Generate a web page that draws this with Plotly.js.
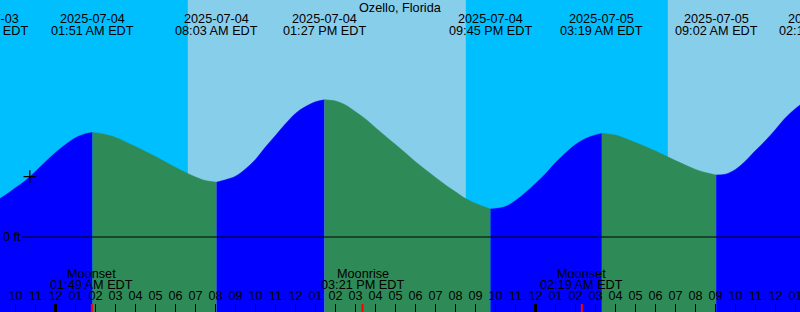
<!DOCTYPE html>
<html>
<head>
<meta charset="utf-8">
<script src="https://cdn.plot.ly/plotly-3.0.1.min.js"></script>
<style>
html,body{margin:0;padding:0;background:#fff;}
#chart{width:800px;height:312px;}
</style>
</head>
<body>
<div id="chart"></div>
<script>
// ---- data ----
const stationName = "Ozello, Florida";

const tideTimes = [
  "2025-07-03 20:33","2025-07-03 21:00","2025-07-03 21:30","2025-07-03 22:00","2025-07-03 22:30",
  "2025-07-03 23:00","2025-07-03 23:30",
  "2025-07-04 00:00","2025-07-04 00:30","2025-07-04 01:00","2025-07-04 01:30","2025-07-04 01:51",
  "2025-07-04 02:15","2025-07-04 02:30","2025-07-04 03:00","2025-07-04 04:00","2025-07-04 05:00",
  "2025-07-04 06:00","2025-07-04 07:00","2025-07-04 07:30","2025-07-04 08:03","2025-07-04 08:30",
  "2025-07-04 09:00","2025-07-04 09:30","2025-07-04 10:00","2025-07-04 10:30","2025-07-04 11:00",
  "2025-07-04 11:30","2025-07-04 12:00","2025-07-04 12:30","2025-07-04 13:00","2025-07-04 13:27",
  "2025-07-04 14:00","2025-07-04 14:30","2025-07-04 15:00","2025-07-04 15:30","2025-07-04 16:00",
  "2025-07-04 16:30","2025-07-04 17:00","2025-07-04 17:30","2025-07-04 18:00","2025-07-04 18:30",
  "2025-07-04 19:00","2025-07-04 19:30","2025-07-04 20:00","2025-07-04 20:30","2025-07-04 21:00",
  "2025-07-04 21:45","2025-07-04 22:00","2025-07-04 22:30","2025-07-04 23:00","2025-07-04 23:30",
  "2025-07-05 00:00","2025-07-05 00:30","2025-07-05 01:00","2025-07-05 01:30","2025-07-05 02:00",
  "2025-07-05 02:30","2025-07-05 03:00","2025-07-05 03:19","2025-07-05 04:00","2025-07-05 04:30",
  "2025-07-05 05:00","2025-07-05 06:00","2025-07-05 07:00","2025-07-05 08:00","2025-07-05 08:30",
  "2025-07-05 09:02","2025-07-05 09:30","2025-07-05 10:00","2025-07-05 10:30","2025-07-05 11:00",
  "2025-07-05 11:30","2025-07-05 12:00","2025-07-05 12:30","2025-07-05 13:00","2025-07-05 13:30",
  "2025-07-05 14:15"
];
const tideLevels = [
  0.80,0.90,1.05,1.23,1.41,
  1.64,1.88,
  2.11,2.31,2.48,2.58,2.61,
  2.59,2.56,2.49,2.26,2.01,
  1.74,1.50,1.41,1.37,1.43,
  1.52,1.70,1.94,2.25,2.54,
  2.83,3.09,3.26,3.38,3.43,
  3.40,3.30,3.13,2.95,2.73,
  2.52,2.31,2.10,1.88,1.68,
  1.49,1.30,1.13,0.96,0.84,
  0.70,0.71,0.76,0.91,1.11,
  1.34,1.58,1.86,2.10,2.31,
  2.46,2.55,2.59,2.55,2.46,
  2.36,2.15,1.91,1.69,1.61,
  1.55,1.57,1.69,1.90,2.16,
  2.41,2.69,2.98,3.21,3.39,
  3.50
];

// high / low tide events
const extremeTimes = ["2025-07-03 20:33","2025-07-04 01:51","2025-07-04 08:03","2025-07-04 13:27",
                      "2025-07-04 21:45","2025-07-05 03:19","2025-07-05 09:02","2025-07-05 14:15"];
const extremeKinds = ["low","high","low","high","low","high","low","high"];
const extremeDateLabels = ["2025-07-03","2025-07-04","2025-07-04","2025-07-04",
                           "2025-07-04","2025-07-05","2025-07-05","2025-07-05"];
const extremeTimeLabels = ["08:33 PM EDT","01:51 AM EDT","08:03 AM EDT","01:27 PM EDT",
                           "09:45 PM EDT","03:19 AM EDT","09:02 AM EDT","02:15 PM EDT"];

// sunrise / sunset (daylight spans)
const dayStarts = ["2025-07-04 06:37","2025-07-05 06:37"];
const dayEnds   = ["2025-07-04 20:31","2025-07-05 20:31"];

// moon events
const moonTimes  = ["2025-07-04 01:49","2025-07-04 15:21","2025-07-05 02:19"];
const moonNames  = ["Moonset","Moonrise","Moonset"];
const moonLabels = ["01:49 AM EDT","03:21 PM EDT","02:19 AM EDT"];

// midnights
const midnights = ["2025-07-04 00:00","2025-07-05 00:00"];

// current-time mark
const markTime = ["2025-07-03 22:43"];
const markLevel = [1.51];

// ---- styling ----
const C_NIGHT = "#00BFFF", C_DAY = "#87CEEB", C_RISE = "#0000FF", C_FALL = "#2E8B57";
const FONT = "Liberation Sans, Arial, sans-serif";
const FS = 12.7;
const xStart = "2025-07-03 21:13:30", xEnd = "2025-07-05 13:13:30";
const yMin = -1.875, yMax = 5.925, yBase = -4;

function ms(s){ const p = s.replace(' ','T'); return Date.parse((p.length===16 ? p+':00' : p)+'Z'); }
function frac(t){ return (ms(t)-ms(xStart))/(ms(xEnd)-ms(xStart)); }

const traces = [];
for (let i = 0; i < extremeTimes.length-1; i++) {
  const a = extremeTimes[i], b = extremeTimes[i+1];
  const xs = [], ys = [];
  tideTimes.forEach((t,k)=>{ if (t >= a && t <= b) { xs.push(t); ys.push(tideLevels[k]); } });
  const col = extremeKinds[i] === "low" ? C_RISE : C_FALL;
  traces.push({x:[a,b], y:[yBase,yBase], type:"scatter", mode:"lines",
               line:{width:0, simplify:false}, hoverinfo:"skip", showlegend:false});
  traces.push({x:xs, y:ys, type:"scatter", mode:"lines", fill:"tonexty", fillcolor:col,
               line:{width:0.5, shape:"spline", smoothing:1, simplify:false, color:col},
               hoverinfo:"skip", showlegend:false});
}
traces.push({x:markTime, y:markLevel, type:"scatter", mode:"markers",
             marker:{symbol:"cross-thin", size:9, color:"#000", line:{color:"#000", width:1.3}},
             hoverinfo:"skip", showlegend:false});

const shapes = [];
dayStarts.forEach((s,i)=>{
  shapes.push({type:"rect", xref:"x", yref:"paper", x0:s, x1:dayEnds[i], y0:0, y1:1,
               fillcolor:C_DAY, line:{width:0}, layer:"below"});
});
shapes.push({type:"line", xref:"paper", yref:"y", x0:22/800, x1:1, y0:0, y1:0,
             line:{color:"#000", width:1}, layer:"above"});
midnights.forEach(m=>{
  shapes.push({type:"line", xref:"x", yref:"paper", ysizemode:"pixel", yanchor:0,
               x0:m, x1:m, y0:0, y1:8, line:{color:"#000", width:3}, layer:"above"});
});
moonTimes.forEach(m=>{
  shapes.push({type:"line", xref:"x", yref:"paper", ysizemode:"pixel", yanchor:0,
               x0:m, x1:m, y0:0, y1:8, line:{color:"#FF0000", width:2}, layer:"above"});
});

const annotations = [];
function ann(xp, ypx, text, xanchor){
  annotations.push({xref:"paper", yref:"paper", x:xp, y:1-ypx/312, text:text, showarrow:false,
                    xanchor:xanchor||"center", yanchor:"middle", borderpad:0,
                    font:{family:FONT, size:FS, color:"#000"}});
}
ann(0.5, 7.5, stationName);
extremeTimes.forEach((t,i)=>{
  ann(frac(t), 19, extremeDateLabels[i]);
  ann(frac(t), 31.5, extremeTimeLabels[i]);
});
moonTimes.forEach((t,i)=>{
  ann(frac(t), 273.5, moonNames[i]);
  ann(frac(t), 285, moonLabels[i]);
});
annotations.push({xref:"paper", yref:"y", x:2/800, y:0, text:"0 ft", showarrow:false,
                  xanchor:"left", yanchor:"middle", borderpad:0,
                  font:{family:FONT, size:FS, color:"#000"}});

const layout = {
  width:800, height:312,
  margin:{l:0, r:0, t:0, b:0, pad:0},
  paper_bgcolor:C_NIGHT, plot_bgcolor:C_NIGHT,
  showlegend:false,
  xaxis:{type:"date", range:[xStart, xEnd], showgrid:false, zeroline:false, showline:false,
         tick0:"2025-07-04 00:00", dtick:3600000, tickformat:"%I",
         ticks:"inside", ticklen:8, tickwidth:1, tickcolor:"#000",
         ticklabelposition:"inside", ticklabeloverflow:"allow", ticklabelstandoff:1,
         tickfont:{family:FONT, size:FS, color:"#000"}, fixedrange:true},
  yaxis:{range:[yMin, yMax], showgrid:false, zeroline:false, showline:false,
         showticklabels:false, ticks:"", fixedrange:true},
  shapes:shapes, annotations:annotations
};

Plotly.newPlot("chart", traces, layout, {displayModeBar:false, staticPlot:true});
</script>
</body>
</html>
